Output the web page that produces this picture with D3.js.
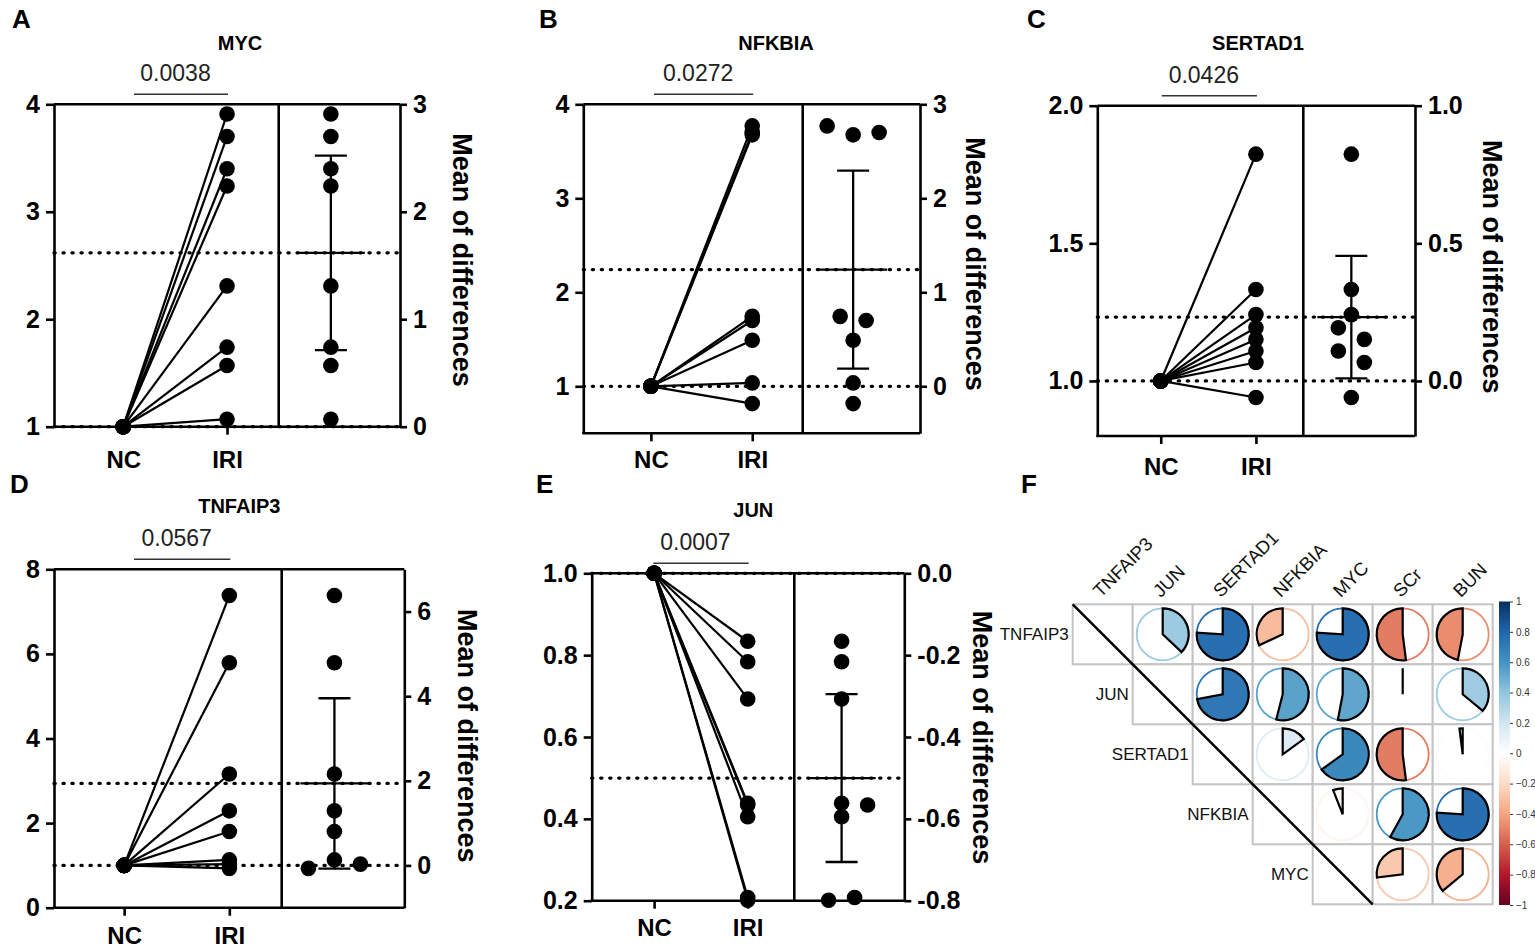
<!DOCTYPE html>
<html>
<head>
<meta charset="utf-8">
<script src="https://cdn.jsdelivr.net/npm/d3@7"></script>
<style>
  body { margin: 0; background: #fff; }
  svg text { font-family: Arial, "Liberation Sans", sans-serif; }
</style>
</head>
<body>
<svg id="fig" width="1535" height="950"></svg>
<script>
// ---- paired data, NC normalised to 1 ----
const groups = ["NC", "IRI"];

const mycNC = [1, 1, 1, 1, 1, 1, 1, 1];
const mycIRI = [3.91, 3.70, 3.40, 3.24, 2.31, 1.74, 1.57, 1.07];
const mycLane = [0, 0, 0, 0, 0, 0, 0, 0];

const nfkbiaNC = [1, 1, 1, 1, 1, 1, 1, 1];
const nfkbiaIRI = [3.77, 3.675, 3.70, 1.744, 1.70, 1.49, 1.036, 0.816];
const nfkbiaLane = [-2, 0, 2, -1, 1, 0, 0, 0];

const sertad1NC = [1, 1, 1, 1, 1, 1, 1, 1];
const sertad1IRI = [1.824, 1.332, 1.241, 1.193, 1.151, 1.109, 1.067, 0.940];
const sertad1Lane = [0, 0, 0, -1, 1, -1, 1, 0];

const tnfaip3NC = [1, 1, 1, 1, 1, 1, 1, 1];
const tnfaip3IRI = [7.38, 5.79, 3.16, 2.29, 1.80, 1.13, 1.03, 0.93];
const tnfaip3Lane = [0, 0, 0, 0, 0, 0, 2, -2];

const junNC = [1, 1, 1, 1, 1, 1, 1, 1];
const junIRI = [0.834, 0.784, 0.693, 0.438, 0.434, 0.405, 0.201, 0.208];
const junLane = [0, 0, 0, 0, 2, 0, -1, 1];

const pValues = ["0.0038", "0.0272", "0.0426", "0.0567", "0.0007"];

// ---- correlation matrix (panel F) ----
const corrRows = ["TNFAIP3", "JUN", "SERTAD1", "NFKBIA", "MYC"];
const corrCols = ["TNFAIP3", "JUN", "SERTAD1", "NFKBIA", "MYC", "SCr", "BUN"];
const corrValues = [
  [1, 0.37, 0.76, -0.32, 0.76, -0.52, -0.47],
  [null, 1, 0.72, 0.54, 0.53, 0.0, 0.36],
  [null, null, 1, 0.15, 0.65, -0.52, -0.02],
  [null, null, null, 1, -0.06, 0.58, 0.76],
  [null, null, null, null, 1, -0.27, -0.36]
];
const rdbu = ["#67001F", "#B2182B", "#D6604D", "#F4A582", "#FDDBC7", "#FFFFFF",
              "#D1E5F0", "#92C5DE", "#4393C3", "#2166AC", "#053061"];

const svg = d3.select("#fig");
const tCrit = 2.3646; // 95% CI, df = 7
const toFixed1 = v => v.toFixed(1);

/**
 * Draws one estimation plot (paired lines + mean of differences)
 */
function drawPanel(cfg) {
  const g = svg.append("g");
  const diffs = cfg.iri.map((v, i) => v - cfg.nc[i]);
  const mean = d3.mean(diffs);
  const half = tCrit * d3.deviation(diffs) / Math.sqrt(diffs.length);

  const yL = d3.scaleLinear().domain(cfg.dom).range([cfg.yBot, cfg.yTop]);
  const yR = d3.scaleLinear().domain([cfg.dom[0] - 1, cfg.dom[1] - 1]).range([cfg.yBot, cfg.yTop]);
  const W = cfg.xdiv - cfg.ox;
  const x = d3.scalePoint().domain(groups).range([cfg.ox + W * 0.308, cfg.ox + W * 0.77]);
  const cx = cfg.xdiv + 0.43 * (cfg.xr - cfg.xdiv);

  // dotted reference lines
  [1, 1 + mean].forEach(v => {
    g.append("line")
      .attr("x1", cfg.ox).attr("x2", cfg.xr)
      .attr("y1", yL(v)).attr("y2", yL(v))
      .attr("stroke", "#000").attr("stroke-width", 3.3)
      .attr("stroke-linecap", "round")
      .attr("stroke-dasharray", "1.2,7.8");
  });

  // frame
  g.append("line").attr("x1", cfg.ox).attr("x2", cfg.xr)
    .attr("y1", cfg.yTop).attr("y2", cfg.yTop)
    .attr("stroke", "#000").attr("stroke-width", 2.6);
  g.append("line").attr("x1", cfg.ox - 1).attr("x2", cfg.xr)
    .attr("y1", cfg.yBot).attr("y2", cfg.yBot)
    .attr("stroke", "#000").attr("stroke-width", 2.6);
  g.append("line").attr("x1", cfg.xdiv).attr("x2", cfg.xdiv)
    .attr("y1", cfg.yTop).attr("y2", cfg.yBot)
    .attr("stroke", "#000").attr("stroke-width", 2.6);

  // left axis
  const axL = g.append("g").attr("transform", `translate(${cfg.ox},0)`)
    .call(d3.axisLeft(yL).tickValues(cfg.ticksL).tickFormat(cfg.fmt)
      .tickSize(8).tickSizeOuter(0).tickPadding(6));
  // right axis
  const axR = g.append("g").attr("transform", `translate(${cfg.xr},0)`)
    .call(d3.axisRight(yR).tickValues(cfg.ticksR).tickFormat(cfg.fmt)
      .tickSize(7).tickSizeOuter(0).tickPadding(6));
  // bottom axis
  const axB = g.append("g").attr("transform", `translate(0,${cfg.yBot})`)
    .call(d3.axisBottom(x).tickSize(8).tickPadding(cfg.ncY - cfg.yBot - 25));
  axB.select(".domain").remove();

  [axL, axR, axB].forEach(a => {
    a.attr("font-family", "Arial, 'Liberation Sans', sans-serif")
      .attr("font-size", 25).attr("font-weight", "bold");
    a.selectAll("line").attr("stroke-width", 2.6);
    a.selectAll("path.domain").attr("stroke-width", 2.6);
  });
  axB.attr("font-size", 24);

  // paired lines
  g.selectAll("line.pair")
    .data(cfg.iri)
    .join("line")
    .classed("pair", true)
    .attr("x1", x("NC")).attr("y1", (d, i) => yL(cfg.nc[i]))
    .attr("x2", x("IRI")).attr("y2", d => yL(d))
    .attr("stroke", "#000").attr("stroke-width", 2.2);

  // points
  g.selectAll("circle.nc")
    .data(cfg.nc)
    .join("circle")
    .attr("cx", x("NC")).attr("cy", d => yL(d)).attr("r", 7.8);
  g.selectAll("circle.iri")
    .data(cfg.iri)
    .join("circle")
    .attr("cx", x("IRI")).attr("cy", d => yL(d)).attr("r", 7.8);

  // differences
  g.selectAll("circle.diff")
    .data(diffs)
    .join("circle")
    .attr("cx", (d, i) => cx + cfg.lane[i] * 13)
    .attr("cy", d => yR(d)).attr("r", 7.8);

  // mean and 95% CI
  const bar = g.append("g").attr("stroke", "#000").attr("stroke-width", 2.3);
  bar.append("line").attr("x1", cx - 34).attr("x2", cx + 34)
    .attr("y1", yR(mean)).attr("y2", yR(mean));
  bar.append("line").attr("x1", cx).attr("x2", cx)
    .attr("y1", yR(mean - half)).attr("y2", yR(mean + half));
  [mean - half, mean + half].forEach(v => {
    bar.append("line").attr("x1", cx - 16).attr("x2", cx + 16)
      .attr("y1", yR(v)).attr("y2", yR(v));
  });

  // p value bracket
  const barY = cfg.yTop - 10;
  g.append("line").attr("x1", cfg.barX1).attr("x2", x("IRI") + 1)
    .attr("y1", barY).attr("y2", barY)
    .attr("stroke", "#333").attr("stroke-width", 1.4);
  g.append("text")
    .attr("x", (cfg.barX1 + x("IRI")) / 2 - 5).attr("y", barY - 13)
    .attr("text-anchor", "middle").attr("font-size", 23).attr("fill", "#222")
    .text(cfg.p);

  // titles
  g.append("text").attr("x", cfg.titleX).attr("y", cfg.titleY)
    .attr("text-anchor", "middle").attr("font-size", 20).attr("font-weight", "bold")
    .text(cfg.gene);
  g.append("text").attr("x", cfg.labelX).attr("y", cfg.labelY)
    .attr("font-size", 26).attr("font-weight", "bold")
    .text(cfg.id);
  g.append("text")
    .attr("transform", `translate(${cfg.meanX},${cfg.meanY}) rotate(90)`)
    .attr("text-anchor", "middle").attr("dominant-baseline", "central")
    .attr("font-size", 27).attr("font-weight", "bold")
    .text("Mean of differences");
}

const panels = [
  { id: "A", gene: "MYC", nc: mycNC, iri: mycIRI, lane: mycLane, p: pValues[0],
    ox: 54, xdiv: 278.7, xr: 400, yTop: 104.3, yBot: 426.7, dom: [1, 4],
    ticksL: [1, 2, 3, 4], ticksR: [0, 1, 2, 3], fmt: d3.format("d"),
    labelX: 12, labelY: 28, titleX: 240, titleY: 50, barX1: 134, ncY: 468,
    meanX: 461.7, meanY: 260 },
  { id: "B", gene: "NFKBIA", nc: nfkbiaNC, iri: nfkbiaIRI, lane: nfkbiaLane, p: pValues[1],
    ox: 583.3, xdiv: 802.7, xr: 920, yTop: 104.3, yBot: 433.3, dom: [0.5, 4],
    ticksL: [1, 2, 3, 4], ticksR: [0, 1, 2, 3], fmt: d3.format("d"),
    labelX: 539, labelY: 28, titleX: 776, titleY: 50, barX1: 654, ncY: 468,
    meanX: 975, meanY: 264 },
  { id: "C", gene: "SERTAD1", nc: sertad1NC, iri: sertad1IRI, lane: sertad1Lane, p: pValues[2],
    ox: 1097.3, xdiv: 1303.3, xr: 1415, yTop: 105.7, yBot: 436, dom: [0.8, 2.0],
    ticksL: [1.0, 1.5, 2.0], ticksR: [0.0, 0.5, 1.0], fmt: toFixed1,
    labelX: 1027, labelY: 28, titleX: 1258, titleY: 50, barX1: 1161.7, ncY: 475,
    meanX: 1491.7, meanY: 266.7 },
  { id: "D", gene: "TNFAIP3", nc: tnfaip3NC, iri: tnfaip3IRI, lane: tnfaip3Lane, p: pValues[3],
    ox: 54, xdiv: 281.7, xr: 404.3, yTop: 569.3, yBot: 907.7, dom: [0, 8],
    ticksL: [0, 2, 4, 6, 8], ticksR: [0, 2, 4, 6], fmt: d3.format("d"),
    labelX: 10, labelY: 493, titleX: 239.3, titleY: 513, barX1: 134, ncY: 944,
    meanX: 466.7, meanY: 735.8 },
  { id: "E", gene: "JUN", nc: junNC, iri: junIRI, lane: junLane, p: pValues[4],
    ox: 591.7, xdiv: 794.3, xr: 904.3, yTop: 573.3, yBot: 900.7, dom: [0.2, 1.0],
    ticksL: [0.2, 0.4, 0.6, 0.8, 1.0], ticksR: [0.0, -0.2, -0.4, -0.6, -0.8], fmt: toFixed1,
    labelX: 536, labelY: 493, titleX: 753.3, titleY: 516.7, barX1: 653.3, ncY: 936,
    meanX: 981.7, meanY: 737.5 }
];

panels.forEach(drawPanel);

// ---- panel F: correlation pie matrix ----
function drawCorr() {
  const g = svg.append("g");
  const cell = 60;
  const gx = 1072.7, gy = 604.3;
  const xC = d3.scaleBand().domain(corrCols).range([gx, gx + cell * corrCols.length]);
  const yC = d3.scaleBand().domain(corrRows).range([gy, gy + cell * corrRows.length]);
  const color = d3.scaleLinear()
    .domain(rdbu.map((c, i) => Math.round((-1 + i * 0.2) * 10) / 10))
    .range(rdbu);
  const r = 26;
  const arc = d3.arc().innerRadius(0).outerRadius(r).startAngle(0);

  const cells = [];
  corrRows.forEach((rn, i) => {
    corrCols.forEach((cn, j) => {
      if (j >= i) cells.push({ row: rn, col: cn, v: corrValues[i][j], diag: i === j });
    });
  });

  g.selectAll("rect.cell")
    .data(cells)
    .join("rect")
    .attr("x", d => xC(d.col)).attr("y", d => yC(d.row))
    .attr("width", cell).attr("height", cell)
    .attr("fill", "#fff").attr("stroke", "#c4c4c4").attr("stroke-width", 2);

  const pies = g.selectAll("g.pie")
    .data(cells.filter(d => !d.diag))
    .join("g")
    .attr("transform", d => `translate(${xC(d.col) + cell / 2},${yC(d.row) + cell / 2})`);
  pies.append("circle").attr("r", r)
    .attr("fill", "none").attr("stroke", d => color(d.v)).attr("stroke-width", 1.8);
  pies.append("path")
    .attr("d", d => arc.endAngle(d.v * 2 * Math.PI)())
    .attr("fill", d => color(d.v))
    .attr("stroke", "#000").attr("stroke-width", 2.2).attr("stroke-linejoin", "miter");

  // diagonal
  g.append("line")
    .attr("x1", gx).attr("y1", gy)
    .attr("x2", gx + cell * corrRows.length).attr("y2", gy + cell * corrRows.length)
    .attr("stroke", "#000").attr("stroke-width", 2.5);

  // labels
  g.selectAll("text.row")
    .data(corrRows)
    .join("text")
    .attr("x", (d, i) => xC(corrCols[i]) - 4)
    .attr("y", d => yC(d) + cell / 2)
    .attr("text-anchor", "end").attr("dominant-baseline", "central")
    .attr("font-size", 17).attr("fill", "#111")
    .text(d => d);
  g.selectAll("text.col")
    .data(corrCols)
    .join("text")
    .attr("transform", d => `translate(${xC(d) + cell / 2 - 2},${gy - 6}) rotate(-45)`)
    .attr("font-size", 18.5).attr("fill", "#111")
    .text(d => d);

  // colour legend
  const lx = 1499, lw = 11, lTop = 601.5, lBot = 905;
  const grad = svg.append("defs").append("linearGradient")
    .attr("id", "rdbu").attr("x1", 0).attr("y1", 1).attr("x2", 0).attr("y2", 0);
  grad.selectAll("stop")
    .data(rdbu)
    .join("stop")
    .attr("offset", (d, i) => i / (rdbu.length - 1))
    .attr("stop-color", d => d);
  g.append("rect").attr("x", lx).attr("y", lTop).attr("width", lw).attr("height", lBot - lTop)
    .attr("fill", "url(#rdbu)");
  const yLeg = d3.scaleLinear().domain([-1, 1]).range([lBot, lTop]);
  const legAx = g.append("g").attr("transform", `translate(${lx + lw},0)`)
    .call(d3.axisRight(yLeg).tickValues(color.domain()).tickSize(3).tickPadding(3)
      .tickFormat(d3.format("~g")));
  legAx.select(".domain").remove();
  legAx.attr("font-family", "Arial, 'Liberation Sans', sans-serif").attr("font-size", 10);
  legAx.selectAll("text").attr("fill", "#333");
  legAx.selectAll("line").attr("stroke", "#333");

  svg.append("text").attr("x", 1021).attr("y", 493)
    .attr("font-size", 26).attr("font-weight", "bold").text("F");
}

drawCorr();
</script>
</body>
</html>
